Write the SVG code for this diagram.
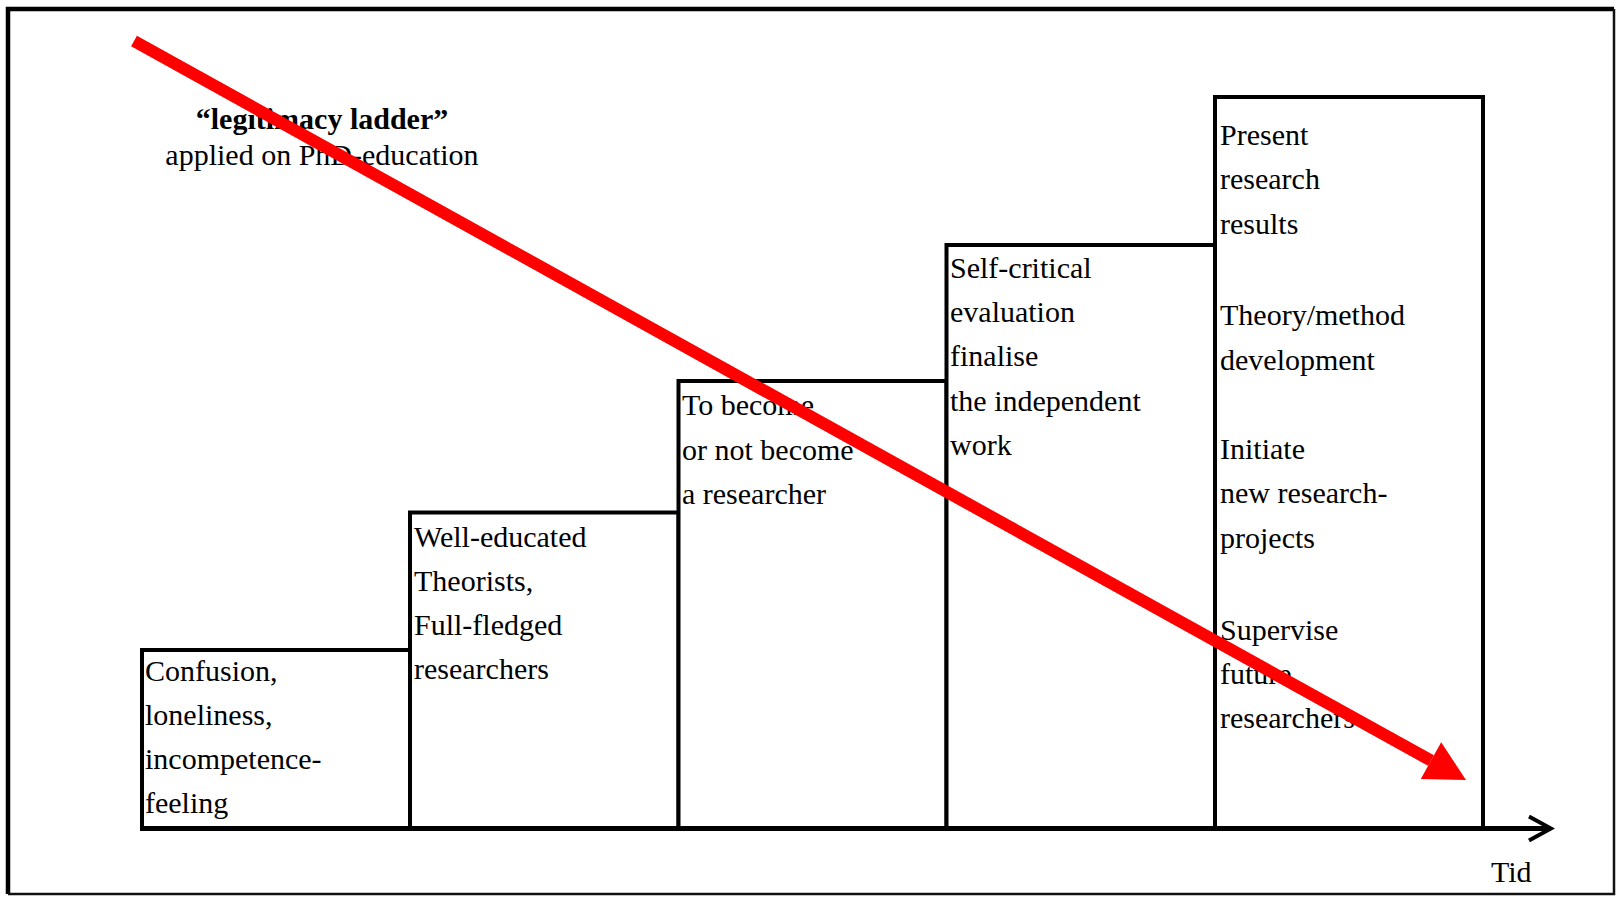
<svg xmlns="http://www.w3.org/2000/svg" width="1617" height="897" viewBox="0 0 1617 897">
<style>
text{font-family:"Liberation Serif","Times New Roman",serif;font-size:30px;fill:#000}
.title{font-weight:bold}
.box{fill:#fff;stroke:#000;stroke-width:4}
.axis{stroke:#000;stroke-width:5;fill:none}
.red{stroke:#ff0000;stroke-width:12;fill:none;stroke-linecap:butt}
</style>
<defs>
<marker id="redhead" markerUnits="userSpaceOnUse" viewBox="-1 -22 42 44" markerWidth="42" markerHeight="44" refX="0" refY="0" orient="auto">
<path d="M0,-21 L40,0 L0,21 Z" fill="#ff0000"/>
</marker>
<marker id="chev" markerUnits="userSpaceOnUse" viewBox="-26 -16 30 32" markerWidth="30" markerHeight="32" refX="0" refY="0" orient="auto">
<path d="M-22,-12 L0,0 L-22,12" fill="none" stroke="#000" stroke-width="4" stroke-linejoin="miter"/>
</marker>
</defs>
<rect x="0" y="0" width="1617" height="897" fill="#fff"/>
<path d="M8,894 L8,9 L1614,9" fill="none" stroke="#000" stroke-width="4.5"/>
<path d="M1614,9 L1614,894 L8,894" fill="none" stroke="#111" stroke-width="2.5"/>
<g id="title">
<text class="title" x="322" y="129" text-anchor="middle">“legitimacy ladder”</text>
<text x="322" y="165" text-anchor="middle">applied on PhD-education</text>
</g>
<g id="step1">
<rect class="box" x="142" y="650" width="268" height="178"/>
<text x="145" y="681">Confusion,</text>
<text x="145" y="725">loneliness,</text>
<text x="145" y="769">incompetence-</text>
<text x="145" y="813">feeling</text>
</g>
<g id="step2">
<rect class="box" x="410" y="512.5" width="268.5" height="315.5"/>
<text x="414" y="547">Well-educated</text>
<text x="414" y="591">Theorists,</text>
<text x="414" y="635">Full-fledged</text>
<text x="414" y="679">researchers</text>
</g>
<g id="step3">
<rect class="box" x="678.5" y="381" width="268" height="447"/>
<text x="682" y="415">To become</text>
<text x="682" y="460">or not become</text>
<text x="682" y="504">a researcher</text>
</g>
<g id="step4">
<rect class="box" x="946.5" y="245" width="268.5" height="583"/>
<text x="950" y="278">Self-critical</text>
<text x="950" y="322">evaluation</text>
<text x="950" y="366">finalise</text>
<text x="950" y="411">the independent</text>
<text x="950" y="455">work</text>
</g>
<g id="step5">
<rect class="box" x="1215" y="97" width="268" height="731"/>
<text x="1220" y="145">Present</text>
<text x="1220" y="189">research</text>
<text x="1220" y="234">results</text>
<text x="1220" y="325">Theory/method</text>
<text x="1220" y="370">development</text>
<text x="1220" y="459">Initiate</text>
<text x="1220" y="503">new research-</text>
<text x="1220" y="548">projects</text>
<text x="1220" y="640">Supervise</text>
<text x="1220" y="684">future</text>
<text x="1220" y="728">researchers</text>
</g>
<g id="connectors">
<line class="axis" x1="140" y1="828.5" x2="1551" y2="828.5" marker-end="url(#chev)"/>
<line class="red" x1="134" y1="41" x2="1431" y2="760.6" marker-end="url(#redhead)"/>
</g>
<g id="axis-label">
<text x="1491" y="882">Tid</text>
</g>
</svg>
